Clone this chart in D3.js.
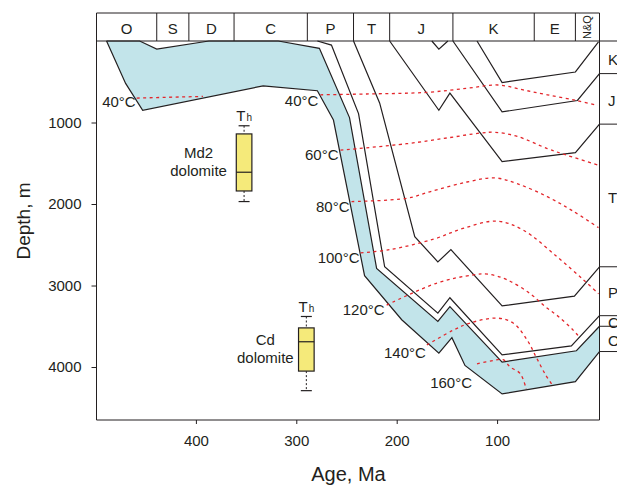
<!DOCTYPE html>
<html>
<head>
<meta charset="utf-8">
<script src="https://cdn.jsdelivr.net/npm/d3@7"></script>
<style>
body { margin: 0; background: #fff; }
svg { font-family: "Liberation Sans", Arial, sans-serif; }
</style>
</head>
<body>
<div id="chart"></div>
<script>
// geological periods along the top (boundaries in Ma)
var periods = ["O", "S", "D", "C", "P", "T", "J", "K", "E", "N&Q"];
var periodBounds = [499, 439, 407, 362, 289, 243, 207, 144, 63, 22, -2];

// present-day formations on the right (depth boundaries in m)
var formations = ["K", "J", "T", "P", "C", "O"];
var formBounds = [0, 400, 1020, 2770, 3370, 3500, 3810];

// burial curves [age Ma, depth m]
var oBase = [[489,0],[470,520],[453,850],[333,550],[279,610],[263,970],[232,2880],[195,3420],[158,3830],[145,3640],[132,3980],[95,4330],[22,4180],[-2,3810]];
var oTop = [[489,0],[456,0],[439,100],[387,0],[318,0],[277,90],[247,940],[220,2790],[159,3440],[147,3260],[95,3940],[21,3800],[-2,3500]];
var pBase = [[279,0],[265,50],[238,890],[212,2770],[159,3340],[147,3150],[95,3850],[26,3740],[-2,3370]];
var tBase = [[243,0],[217,760],[182,2400],[159,2710],[146,2560],[95,3250],[23,3130],[-2,2770]];
var jBase = [[207,0],[158,850],[147,640],[95,1480],[22,1370],[-2,1020]];
var jDip = [[165,0],[158,100],[149,0]];
var kBase = [[144,0],[95,870],[20,730],[-2,400]];
var kTop = [[120,0],[95,510],[22,380],[-1,10]];

// isotherms [age Ma, depth m]
var isoLabels = ["40°C", "40°C", "60°C", "80°C", "100°C", "120°C", "140°C", "160°C"];
var iso40a = [[459,700],[393,680]];
var iso40 = [[276,660],[230,650],[170,630],[130,580],[99,540],[74,600],[50,660],[21,730],[0,790]];
var iso60 = [[256,1340],[190,1260],[150,1190],[117,1130],[102,1120],[80,1170],[50,1320],[36,1380],[0,1520]];
var iso80 = [[245,1970],[190,1930],[167,1850],[130,1730],[102,1680],[80,1750],[50,1910],[24,2090],[-1,2290]];
var iso100 = [[236,2600],[207,2560],[163,2430],[134,2300],[100,2210],[74,2320],[40,2650],[14,2930],[-1,3100]];
var iso120 = [[210,3240],[160,2970],[124,2870],[109,2860],[90,2930],[67,3100],[52,3260],[39,3380],[24,3550],[19,3620]];
var iso140 = [[170,3730],[144,3550],[127,3460],[100,3400],[84,3460],[70,3670],[61,3880],[52,4090],[45,4220]];
var iso160 = [[120,3960],[104,3920],[94,3910],[87,4000],[77,4080],[71,4270]];

// Th box plots: age, [whisker top, q1, median, q3, whisker bottom] depth
var boxNames = ["Md2", "Cd"];
var boxAge = [352, 290];
var boxStats = [[1040,1140,1610,1840,1970],[3380,3520,3690,4050,4290]];

var xTicks = [400, 300, 200, 100];
var yTicks = [1000, 2000, 3000, 4000];

var W = 617, H = 486;
var ink = "#231f20";
var headTop = 13;

var svg = d3.select("#chart").append("svg")
    .attr("width", W)
    .attr("height", H);

var x = d3.scaleLinear().domain([499, -2]).range([96.5, 599.5]);
var y = d3.scaleLinear().domain([0, 4650]).range([41, 420]);

var line = d3.line()
    .x(function(d) { return x(d[0]); })
    .y(function(d) { return y(d[1]); });

var smooth = d3.line()
    .x(function(d) { return x(d[0]); })
    .y(function(d) { return y(d[1]); })
    .curve(d3.curveCatmullRom.alpha(0.5));

// blue Ordovician band
svg.append("path")
    .attr("d", line(oTop.concat(oBase.slice().reverse())) + "Z")
    .attr("fill", "#c2e4ea")
    .attr("stroke", "none");

// burial lines
[oBase, oTop, pBase, tBase, jBase, jDip, kBase, kTop].forEach(function(c) {
  svg.append("path")
      .attr("d", line(c))
      .attr("fill", "none")
      .attr("stroke", ink)
      .attr("stroke-width", 1.2)
      .attr("stroke-linejoin", "miter");
});

// isotherms
var isos = [iso40a, iso40, iso60, iso80, iso100, iso120, iso140, iso160];
var labelOff = [[-1, 9], [-2, 11], [-2, 10], [-2, 10], [-1, 10], [-2, 10], [-1, 13], [-5, 24]];
isos.forEach(function(c, i) {
  svg.append("path")
      .attr("d", smooth(c))
      .attr("fill", "none")
      .attr("stroke", "#e3262b")
      .attr("stroke-width", 1.3)
      .attr("stroke-dasharray", "3,3.5");
  svg.append("text")
      .attr("x", x(c[0][0]) + labelOff[i][0])
      .attr("y", y(c[0][1]) + labelOff[i][1])
      .attr("text-anchor", "end")
      .attr("font-size", 15)
      .attr("fill", ink)
      .text(isoLabels[i]);
});

// box plots
var bw = 15.6;
var nameOff = [[-45.5, 24], [-41, 17]];
boxAge.forEach(function(a, i) {
  var s = boxStats[i], cx = x(a);
  var g = svg.append("g");
  [[s[0], s[1]], [s[3], s[4]]].forEach(function(w) {
    g.append("line")
        .attr("x1", cx).attr("x2", cx)
        .attr("y1", y(w[0])).attr("y2", y(w[1]))
        .attr("stroke", ink)
        .attr("stroke-dasharray", "2,2");
  });
  [s[0], s[4]].forEach(function(v) {
    g.append("line")
        .attr("x1", cx - 5.5).attr("x2", cx + 5.5)
        .attr("y1", y(v)).attr("y2", y(v))
        .attr("stroke", ink)
        .attr("stroke-width", 1.2);
  });
  g.append("rect")
      .attr("x", cx - bw / 2)
      .attr("y", y(s[1]))
      .attr("width", bw)
      .attr("height", y(s[3]) - y(s[1]))
      .attr("fill", "#f5ea7a")
      .attr("stroke", ink)
      .attr("stroke-width", 1.2);
  g.append("line")
      .attr("x1", cx - bw / 2).attr("x2", cx + bw / 2)
      .attr("y1", y(s[2])).attr("y2", y(s[2]))
      .attr("stroke", ink)
      .attr("stroke-width", 1.2);
  var th = g.append("text")
      .attr("x", cx - bw / 2)
      .attr("y", y(s[0]) - 4.5)
      .attr("font-size", 15)
      .attr("fill", ink);
  th.append("tspan").text("T");
  th.append("tspan").attr("font-size", 10).attr("dx", 1).text("h");
  var t = g.append("text")
      .attr("text-anchor", "middle")
      .attr("font-size", 15)
      .attr("fill", ink);
  t.append("tspan")
      .attr("x", cx + nameOff[i][0])
      .attr("y", y(s[1]) + nameOff[i][1])
      .text(boxNames[i]);
  t.append("tspan")
      .attr("x", cx + nameOff[i][0])
      .attr("y", y(s[1]) + nameOff[i][1] + 18)
      .text("dolomite");
});

// frame
var x0 = x(periodBounds[0]), x1 = x(periodBounds[periodBounds.length - 1]);
svg.append("path")
    .attr("d", "M" + x0 + "," + headTop + "V" + y(4650) + "H" + x1 + "V" + headTop + "Z")
    .attr("fill", "none")
    .attr("stroke", ink);
svg.append("line")
    .attr("x1", x0).attr("x2", W)
    .attr("y1", y(0)).attr("y2", y(0))
    .attr("stroke", ink)
    .attr("stroke-width", 1.2);

// period header
periods.forEach(function(p, i) {
  var a = x(periodBounds[i]), b = x(periodBounds[i + 1]);
  if (i > 0) {
    svg.append("line")
        .attr("x1", a).attr("x2", a)
        .attr("y1", headTop).attr("y2", y(0))
        .attr("stroke", ink);
  }
  if (p === "N&Q") {
    svg.append("text")
        .attr("transform", "translate(" + ((a + b) / 2 + 4) + "," + ((headTop + y(0)) / 2) + ") rotate(-90)")
        .attr("text-anchor", "middle")
        .attr("font-size", 11)
        .attr("fill", ink)
        .text(p);
  } else {
    svg.append("text")
        .attr("x", (a + b) / 2)
        .attr("y", 33.5)
        .attr("text-anchor", "middle")
        .attr("font-size", 15)
        .attr("fill", ink)
        .text(p);
  }
});

// formation column
formations.forEach(function(f, i) {
  var a = y(formBounds[i]), b = y(formBounds[i + 1]);
  svg.append("line")
      .attr("x1", x1).attr("x2", W)
      .attr("y1", b).attr("y2", b)
      .attr("stroke", ink);
  svg.append("text")
      .attr("x", 608)
      .attr("y", (a + b) / 2 + 2)
      .attr("dy", "0.35em")
      .attr("font-size", 15)
      .attr("fill", ink)
      .text(f);
});

// axes
var gy = svg.append("g")
    .attr("transform", "translate(" + x0 + ",0)")
    .call(d3.axisLeft(y).tickValues(yTicks).tickSize(5).tickPadding(10).tickFormat(d3.format("d")));
var gx = svg.append("g")
    .attr("transform", "translate(0," + y(4650) + ")")
    .call(d3.axisBottom(x).tickValues(xTicks).tickSize(4).tickPadding(11).tickFormat(d3.format("d")));
[gx, gy].forEach(function(g) {
  g.select(".domain").remove();
  g.attr("font-family", null).attr("font-size", 15);
  g.selectAll("line").attr("stroke", ink);
  g.selectAll("text").attr("fill", ink);
});

svg.append("text")
    .attr("x", 348.5)
    .attr("y", 481)
    .attr("text-anchor", "middle")
    .attr("font-size", 20)
    .attr("fill", ink)
    .text("Age, Ma");

svg.append("text")
    .attr("transform", "translate(30,221) rotate(-90)")
    .attr("text-anchor", "middle")
    .attr("font-size", 19)
    .attr("fill", ink)
    .text("Depth, m");
</script>
</body>
</html>
